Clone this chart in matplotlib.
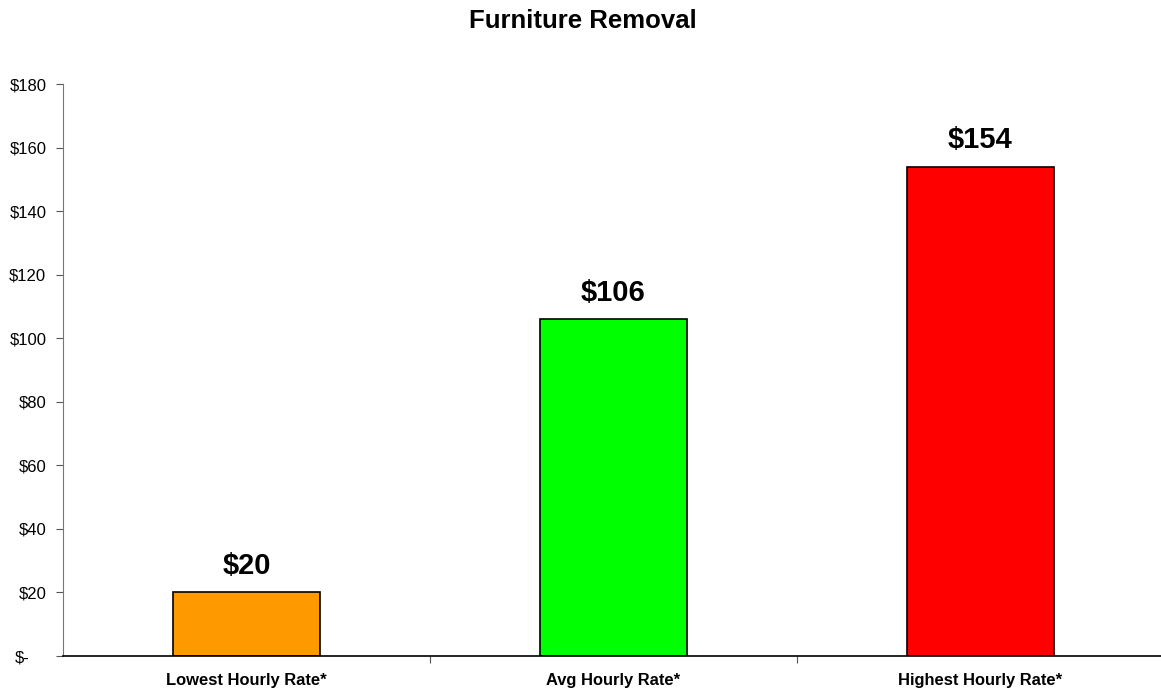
import matplotlib
matplotlib.use("Agg")
import matplotlib.pyplot as plt
import matplotlib.transforms as mtransforms
from matplotlib.ticker import FixedLocator

categories = ["Lowest Hourly Rate*", "Avg Hourly Rate*", "Highest Hourly Rate*"]
values = [20, 106, 154]
colors = ["#FF9900", "#00FF00", "#FF0000"]
yticks = [0, 20, 40, 60, 80, 100, 120, 140, 160, 180]
ytick_labels = ["$-", "$20", "$40", "$60", "$80", "$100", "$120", "$140", "$160", "$180"]

plt.rcParams['font.family'] = ['Liberation Sans', 'DejaVu Sans']

W, H = 1161, 689
fig = plt.figure(figsize=(W / 100, H / 100), dpi=100)
left, right, bottom, top = 63, 1164, 656, 84
ax = fig.add_axes([left / W, (H - bottom) / H, (right - left) / W, (bottom - top) / H])

x = list(range(len(categories)))
ax.bar(x, values, width=0.4, color=colors, edgecolor="black", linewidth=1.2, zorder=2)
for xi, v in zip(x, values):
    ax.annotate(f"${v}", (xi, v), xytext=(0, 9), textcoords="offset points",
                ha="center", va="bottom", fontsize=21, fontweight="bold")

ax.set_xlim(-0.5, len(categories) - 0.5)
ax.set_ylim(0, 180)
ax.set_yticks(yticks)
ax.set_yticklabels(ytick_labels, fontsize=12)
ax.xaxis.set_major_locator(FixedLocator([0.5, 1.5]))
ax.set_xticklabels([])
ax.xaxis.set_minor_locator(FixedLocator(x))
ax.set_xticklabels(categories, minor=True, fontsize=11.9, fontweight="bold")
ax.tick_params(axis="x", which="major", direction="out", length=5, width=0.8, color="#555555")
ax.tick_params(axis="x", which="minor", length=0, pad=12)
ax.tick_params(axis="y", direction="out", length=5, width=0.8, color="#555555", pad=7)

# accounting-style zero label: shift it left like the original
zero_lbl = ax.get_yticklabels()[0]
zero_lbl.set_transform(zero_lbl.get_transform() +
                       mtransforms.ScaledTranslation(-17 / 100, 0, fig.dpi_scale_trans))

for s in ["top", "right"]:
    ax.spines[s].set_visible(False)
ax.spines["left"].set_color("#777777")
ax.spines["bottom"].set_color("black")
ax.spines["bottom"].set_linewidth(1.2)

fig.text(583 / W, 1 - 21 / H, "Furniture Removal", ha="center", va="center",
         fontsize=18.5, fontweight="bold")

fig.savefig("out.png", dpi=100)
